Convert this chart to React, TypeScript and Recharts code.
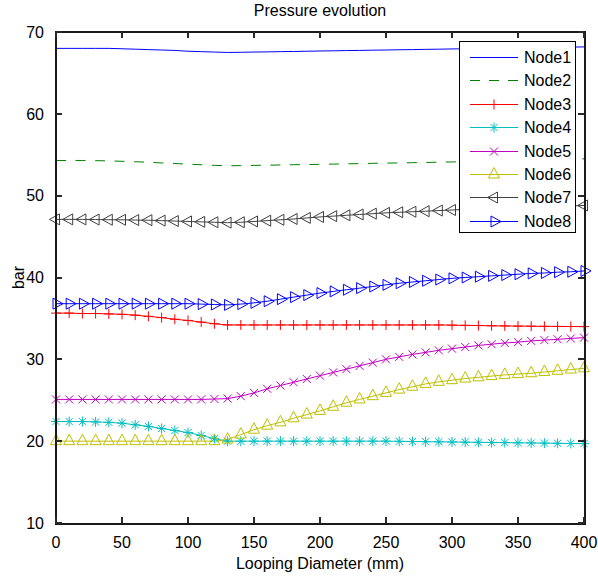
import React from 'react'
import { LineChart, Line, XAxis, YAxis } from 'recharts'

// Looping diameter (mm), one sample every 10 mm
const diameters = [
  0, 10, 20, 30, 40, 50, 60, 70, 80, 90, 100, 110, 120, 130, 140, 150, 160, 170, 180, 190, 200,
  210, 220, 230, 240, 250, 260, 270, 280, 290, 300, 310, 320, 330, 340, 350, 360, 370, 380, 390, 400,
]

const node1 = [
  68.0, 68.0, 68.0, 68.0, 68.0, 67.95, 67.9, 67.85, 67.8, 67.75, 67.65, 67.6, 67.55, 67.5, 67.52,
  67.55, 67.57, 67.6, 67.62, 67.65, 67.68, 67.7, 67.73, 67.75, 67.78, 67.8, 67.83, 67.85, 67.88,
  67.9, 67.93, 67.95, 67.98, 68.0, 68.03, 68.05, 68.08, 68.1, 68.13, 68.15, 68.18,
]
const node2 = [
  54.3, 54.3, 54.3, 54.28, 54.25, 54.2, 54.15, 54.08, 54.0, 53.93, 53.85, 53.78, 53.7, 53.65, 53.67,
  53.7, 53.72, 53.75, 53.78, 53.8, 53.83, 53.86, 53.89, 53.92, 53.95, 53.98, 54.0, 54.03, 54.06,
  54.09, 54.12, 54.15, 54.18, 54.21, 54.25, 54.28, 54.32, 54.36, 54.4, 54.45, 54.5,
]
const node3 = [
  35.65, 35.65, 35.6, 35.6, 35.55, 35.5, 35.4, 35.25, 35.1, 34.9, 34.75, 34.55, 34.35, 34.2, 34.2,
  34.2, 34.2, 34.2, 34.2, 34.2, 34.2, 34.2, 34.2, 34.2, 34.2, 34.2, 34.2, 34.2, 34.2, 34.2, 34.18,
  34.15, 34.13, 34.1, 34.08, 34.06, 34.05, 34.03, 34.02, 34.01, 34.0,
]
const node4 = [
  22.4, 22.4, 22.4, 22.35, 22.3, 22.2, 22.0, 21.8, 21.55, 21.3, 21.05, 20.7, 20.3, 20.0, 20.0, 20.0,
  20.0, 20.0, 20.0, 20.0, 20.0, 20.0, 20.0, 20.0, 20.0, 20.0, 19.98, 19.96, 19.94, 19.92, 19.9,
  19.88, 19.86, 19.84, 19.82, 19.8, 19.78, 19.76, 19.74, 19.72, 19.7,
]
const node5 = [
  25.1, 25.1, 25.1, 25.1, 25.1, 25.1, 25.1, 25.1, 25.1, 25.1, 25.1, 25.1, 25.15, 25.2, 25.5, 25.9,
  26.4, 26.8, 27.2, 27.6, 28.0, 28.4, 28.8, 29.2, 29.6, 30.0, 30.3, 30.6, 30.85, 31.1, 31.3, 31.5,
  31.7, 31.85, 32.0, 32.1, 32.25, 32.35, 32.45, 32.55, 32.65,
]
const node6 = [
  20.0, 20.0, 20.0, 20.0, 20.0, 20.0, 20.0, 20.0, 20.0, 20.0, 20.0, 20.0, 20.0, 20.2, 20.8, 21.4,
  21.9, 22.3, 22.8, 23.25, 23.7, 24.2, 24.7, 25.1, 25.5, 25.9, 26.3, 26.65, 27.0, 27.25, 27.45,
  27.65, 27.8, 27.95, 28.1, 28.2, 28.3, 28.45, 28.6, 28.75, 28.9,
]
const node7 = [
  47.1, 47.1, 47.1, 47.08, 47.06, 47.05, 47.02, 47.0, 46.95, 46.9, 46.85, 46.8, 46.75, 46.7, 46.75,
  46.85, 46.95, 47.05, 47.15, 47.28, 47.4, 47.5, 47.6, 47.7, 47.8, 47.9, 47.97, 48.04, 48.1, 48.18,
  48.25, 48.31, 48.37, 48.43, 48.49, 48.55, 48.6, 48.65, 48.7, 48.75, 48.8,
]
const node8 = [
  36.8, 36.8, 36.8, 36.8, 36.8, 36.8, 36.8, 36.8, 36.8, 36.8, 36.8, 36.75, 36.7, 36.65, 36.75, 36.9,
  37.1, 37.35, 37.6, 37.85, 38.1, 38.3, 38.5, 38.7, 38.9, 39.1, 39.3, 39.45, 39.6, 39.75, 39.9,
  40.0, 40.1, 40.2, 40.3, 40.4, 40.5, 40.55, 40.65, 40.7, 40.8,
]

const xTicks = [0, 50, 100, 150, 200, 250, 300, 350, 400]
const yTicks = [10, 20, 30, 40, 50, 60, 70]

const seriesNames = ['Node1', 'Node2', 'Node3', 'Node4', 'Node5', 'Node6', 'Node7', 'Node8']
const seriesValues = [node1, node2, node3, node4, node5, node6, node7, node8]
const seriesColors = ['#0000ff', '#008000', '#ff0000', '#00bfbf', '#bf00bf', '#bfbf00', '#404040', '#0000ff']
const seriesMarkers = ['none', 'none', 'plus', 'star', 'cross', 'up', 'left', 'right']

const FONT = '"Liberation Sans", Arial, sans-serif'

// plot box inside the 598x579 page (same numbers as the chart margins / axis sizes)
const BOX = { x: 56, y: 32, w: 528, h: 491 }

const data = diameters.map((x, i) => {
  const row: Record<string, number> = { x }
  seriesNames.forEach((name, s) => {
    row[name] = seriesValues[s][i]
  })
  return row
})

function Marker({ kind, cx, cy, color }: { kind: string; cx: number; cy: number; color: string }) {
  if (kind === 'plus') {
    return (
      <g stroke={color} strokeWidth={1}>
        <line x1={cx - 5} y1={cy} x2={cx + 5} y2={cy} />
        <line x1={cx} y1={cy - 5} x2={cx} y2={cy + 5} />
      </g>
    )
  }
  if (kind === 'star') {
    return (
      <g stroke={color} strokeWidth={1}>
        <line x1={cx - 5} y1={cy} x2={cx + 5} y2={cy} />
        <line x1={cx} y1={cy - 5} x2={cx} y2={cy + 5} />
        <line x1={cx - 3.6} y1={cy - 3.6} x2={cx + 3.6} y2={cy + 3.6} />
        <line x1={cx - 3.6} y1={cy + 3.6} x2={cx + 3.6} y2={cy - 3.6} />
      </g>
    )
  }
  if (kind === 'cross') {
    return (
      <g stroke={color} strokeWidth={1}>
        <line x1={cx - 4} y1={cy - 4} x2={cx + 4} y2={cy + 4} />
        <line x1={cx - 4} y1={cy + 4} x2={cx + 4} y2={cy - 4} />
      </g>
    )
  }
  let pts = ''
  if (kind === 'up') pts = `${cx},${cy - 7} ${cx - 5.5},${cy + 3.5} ${cx + 5.5},${cy + 3.5}`
  if (kind === 'left') pts = `${cx - 6.5},${cy} ${cx + 3.5},${cy - 5.5} ${cx + 3.5},${cy + 5.5}`
  if (kind === 'right') pts = `${cx + 7},${cy} ${cx - 3},${cy - 5.5} ${cx - 3},${cy + 5.5}`
  if (!pts) return <g />
  return <polygon points={pts} fill="none" stroke={color} strokeWidth={1} />
}

// box frame with inward ticks on all four sides (MATLAB style), as plain html
function Frame() {
  const px = (v: number) => BOX.x + (v / 400) * BOX.w
  const py = (v: number) => BOX.y + BOX.h - ((v - 10) / 60) * BOX.h
  const len = 6
  const tick = (left: number, top: number, w: number, h: number, key: string) => (
    <div key={key} style={{ position: 'absolute', left, top, width: w, height: h, background: '#2a2a2a' }} />
  )
  return (
    <div style={{ position: 'absolute', left: 0, top: 0, width: 598, height: 579, zIndex: 5, pointerEvents: 'none' }}>
      <div
        style={{
          position: 'absolute',
          left: BOX.x - 1,
          top: BOX.y - 1,
          width: BOX.w + 3,
          height: BOX.h + 3,
          boxSizing: 'border-box',
          border: '2.5px solid #1a1a1a',
        }}
      />
      {xTicks.map((t) => tick(Math.round(px(t)) - 1, BOX.y + BOX.h - len, 2, len, `xb${t}`))}
      {xTicks.map((t) => tick(Math.round(px(t)) - 1, BOX.y, 2, len, `xt${t}`))}
      {yTicks.map((t) => tick(BOX.x, Math.round(py(t)) - 1, len, 2, `yl${t}`))}
      {yTicks.map((t) => tick(BOX.x + BOX.w - len, Math.round(py(t)) - 1, len, 2, `yr${t}`))}
    </div>
  )
}

function YLabel(props: any) {
  const vb = props.viewBox || { x: 0, y: 32, width: 56, height: 491 }
  const cx = 18
  const cy = vb.y + vb.height / 2
  return (
    <text
      x={cx}
      y={cy}
      transform={`rotate(-90 ${cx} ${cy})`}
      textAnchor="middle"
      dominantBaseline="central"
      fontSize={16}
      fontFamily={FONT}
      fill="#000"
    >
      bar
    </text>
  )
}

function LegendBox() {
  return (
    <div
      style={{
        position: 'absolute',
        left: 459,
        top: 41,
        width: 115,
        height: 190,
        border: '1px solid #000',
        background: '#fff',
        zIndex: 6,
      }}
    >
      {seriesNames.map((name, i) => (
        <div
          key={name}
          style={{ position: 'absolute', left: 0, top: 4 + i * 23.4, height: 23, width: 115 }}
        >
          <svg width={60} height={23} style={{ position: 'absolute', left: 0, top: 0 }}>
            <line
              x1={10}
              y1={11.5}
              x2={58}
              y2={11.5}
              stroke={seriesColors[i]}
              strokeWidth={1}
              strokeDasharray={i === 1 ? '10 9' : undefined}
            />
            <Marker kind={seriesMarkers[i]} cx={34} cy={11.5} color={seriesColors[i]} />
          </svg>
          <span
            style={{
              position: 'absolute',
              left: 64,
              top: 2,
              fontSize: 16,
              lineHeight: '19px',
              fontFamily: FONT,
              color: '#000',
            }}
          >
            {name}
          </span>
        </div>
      ))}
    </div>
  )
}

export default function App() {
  const tickStyle = { fontSize: 16, fill: '#000', fontFamily: FONT }
  return (
    <div style={{ position: 'absolute', left: 0, top: 0, width: 598, height: 579, background: '#fff' }}>
      <div
        style={{
          position: 'absolute',
          left: 56,
          width: 528,
          top: 2,
          textAlign: 'center',
          fontSize: 16,
          lineHeight: '18px',
          fontFamily: FONT,
          color: '#000',
        }}
      >
        Pressure evolution
      </div>
      <LineChart
        width={598}
        height={579}
        data={data}
        margin={{ top: BOX.y, right: 598 - BOX.x - BOX.w, bottom: 0, left: 0 }}
      >
        <XAxis
          dataKey="x"
          type="number"
          domain={[0, 400]}
          ticks={xTicks}
          height={579 - BOX.y - BOX.h}
          axisLine={false}
          tickLine={false}
          tickMargin={8}
          tick={tickStyle}
          label={{ value: 'Looping Diameter (mm)', position: 'insideBottom', offset: 10, fontSize: 16, fill: '#000', fontFamily: FONT }}
        />
        <YAxis
          type="number"
          domain={[10, 70]}
          ticks={yTicks}
          width={BOX.x}
          axisLine={false}
          tickLine={false}
          tickMargin={6}
          tick={tickStyle}
          label={<YLabel />}
        />
        {seriesNames.map((name, i) => (
          <Line
            key={name}
            dataKey={name}
            type="linear"
            stroke={seriesColors[i]}
            strokeWidth={1}
            strokeDasharray={i === 1 ? '10 9.5' : undefined}
            isAnimationActive={false}
            activeDot={false}
            dot={
              seriesMarkers[i] === 'none'
                ? false
                : (p: any) => (
                    <Marker
                      key={`${name}-${p.index}`}
                      kind={seriesMarkers[i]}
                      cx={p.cx}
                      cy={p.cy}
                      color={seriesColors[i]}
                    />
                  )
            }
          />
        ))}
      </LineChart>
      <Frame />
      <LegendBox />
    </div>
  )
}
